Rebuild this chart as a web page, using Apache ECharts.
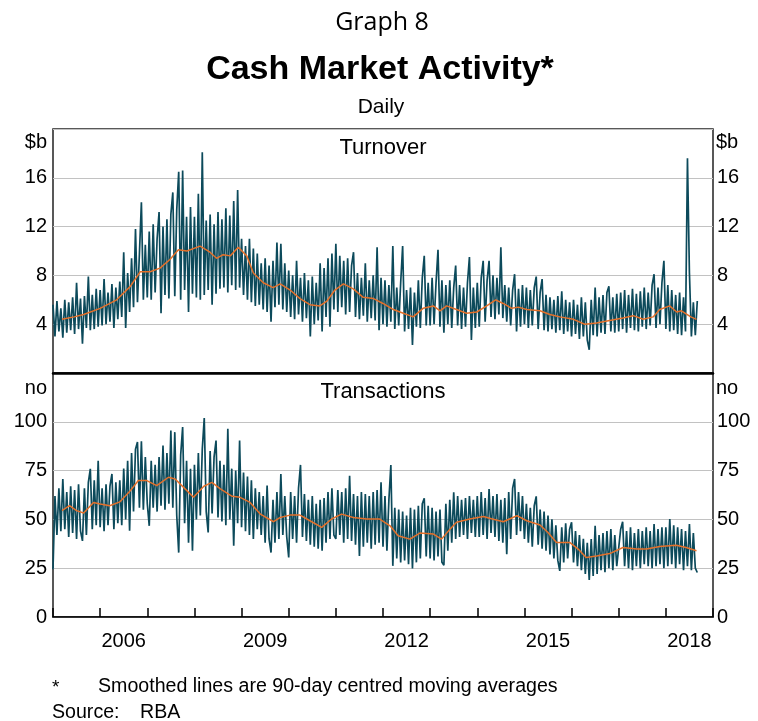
<!DOCTYPE html>
<html>
<head>
<meta charset="utf-8">
<title>Cash Market Activity</title>
<script src="https://cdn.jsdelivr.net/npm/echarts@6/dist/echarts.min.js"></script>
<style>
html, body { margin: 0; padding: 0; background: #fff; }
#chart { width: 758px; height: 721px; }
</style>
</head>
<body>
<div id="chart"></div>
<script>
var startYear = 2005;

var turnover = [
    5.6, 3.0, 5.9, 3.4, 5.3, 2.9, 6.0, 3.3, 5.8, 3.5, 6.2, 3.2, 7.4, 3.6, 6.1, 2.4, 6.3, 3.7, 7.9, 3.5, 6.4, 3.6, 6.9, 3.8, // 2005
    6.8, 3.9, 7.7, 4.0, 6.6, 4.2, 7.3, 3.7, 7.0, 4.4, 7.5, 4.6, 9.9, 3.7, 8.2, 5.0, 9.4, 5.4, 11.8, 5.8, 9.8, 14.0, 6.0, 10.5, // 2006
    6.2, 11.6, 6.0, 12.2, 6.6, 11.0, 13.2, 4.9, 12.0, 6.4, 12.6, 6.1, 13.0, 14.8, 6.3, 13.4, 16.5, 6.0, 16.6, 6.8, 12.8, 5.0, 13.6, 6.5, // 2007
    12.8, 6.2, 14.7, 6.0, 18.1, 6.4, 12.5, 6.8, 13.0, 5.6, 12.2, 6.5, 13.2, 6.9, 12.6, 7.0, 13.5, 6.6, 12.9, 7.2, 14.1, 6.8, 15.0, 7.0, // 2008
    11.0, 6.4, 10.4, 6.0, 11.0, 5.8, 10.2, 5.5, 9.8, 5.6, 9.0, 5.2, 9.4, 5.0, 8.8, 4.2, 9.2, 5.4, 10.7, 5.6, 10.6, 5.2, 9.0, 5.0, // 2009
    8.4, 4.6, 8.0, 4.4, 9.2, 4.8, 7.8, 4.2, 8.2, 4.5, 7.6, 3.0, 7.9, 4.0, 7.4, 4.3, 9.0, 3.4, 8.6, 4.6, 9.4, 3.8, 9.8, 5.2, // 2010
    10.6, 5.0, 9.6, 5.4, 9.2, 4.8, 9.4, 5.0, 8.8, 9.9, 4.6, 8.2, 4.4, 7.8, 4.7, 9.0, 4.2, 7.6, 4.5, 8.0, 4.3, 10.3, 3.5, 7.8, // 2011
    4.0, 7.6, 3.8, 7.2, 4.2, 10.4, 3.6, 7.0, 3.9, 7.4, 10.4, 3.4, 6.8, 3.6, 7.0, 2.3, 6.6, 3.8, 7.6, 3.7, 7.8, 9.6, 3.9, 7.4, // 2012
    3.9, 7.8, 4.0, 7.4, 10.1, 3.8, 7.6, 3.3, 7.2, 4.0, 7.6, 3.7, 7.0, 8.8, 3.9, 7.2, 3.6, 7.0, 3.8, 7.4, 9.5, 2.7, 7.0, 3.7, // 2013
    7.4, 3.8, 7.8, 9.2, 4.2, 7.6, 9.2, 4.6, 8.0, 4.4, 7.8, 4.8, 10.3, 4.5, 7.2, 4.2, 7.0, 3.9, 6.8, 8.1, 3.4, 6.9, 3.8, 7.2, // 2014
    4.0, 7.0, 3.7, 6.8, 3.9, 7.0, 7.9, 3.6, 6.6, 7.7, 3.5, 6.4, 3.4, 6.2, 3.6, 6.0, 3.3, 6.3, 3.5, 6.7, 3.2, 6.0, 3.4, 5.8, // 2015
    3.0, 6.0, 3.2, 5.6, 2.8, 6.2, 3.0, 5.8, 2.7, 1.9, 6.0, 3.1, 7.0, 3.0, 6.2, 3.3, 6.4, 3.2, 6.6, 7.1, 3.4, 6.2, 3.3, 6.5, // 2016
    3.4, 6.6, 3.6, 6.8, 3.3, 6.4, 3.7, 6.9, 3.5, 6.5, 3.4, 6.7, 3.8, 7.0, 3.6, 6.6, 3.9, 7.2, 8.1, 3.7, 7.0, 4.0, 7.4, 9.2, // 2017
    3.6, 7.2, 3.4, 6.8, 3.5, 6.4, 3.2, 6.6, 3.1, 6.2, 3.4, 17.6, 8.2, 3.0, 5.8, 3.1, 5.9 // 2018
];

var transactions = [
    24.5, 62, 42, 66, 44, 70.7, 45, 64, 41, 67, 43, 65, 40, 68, 44, 39, 66, 42, 69, 75.9, 45, 70, 47, 80, // 2005
    46, 66, 44, 68, 47, 67, 73.3, 45, 69, 48, 70, 47, 76, 50, 80, 44.2, 84, 54, 86, 89.6, 56, 90, 55, 82, // 2006
    58, 46.7, 80, 56, 78, 54, 82, 57, 87.8, 55, 84, 58, 95.5, 56, 94.7, 52, 33, 83, 97.3, 48, 80, 38, 76, 33.9, // 2007
    78, 50, 84, 52, 86, 101.9, 54, 43.3, 85, 53, 82, 90.4, 51, 80, 49, 78, 47, 96.4, 50, 76, 36.5, 75, 48, 90.4, // 2008
    46, 74, 44, 72, 42, 70, 40, 66, 45, 64, 42, 62, 38, 67.3, 40, 33, 60, 38, 64, 40, 73.3, 42, 62, 41, // 2009
    30.5, 64, 40, 62, 38, 66, 77.9, 41, 63, 39, 60, 37, 62, 36, 58, 35, 60, 34, 61, 38, 64, 40, 66, 42, // 2010
    40, 65, 42, 64, 38, 66, 40, 72.4, 39, 63, 37, 62, 31.3, 64, 36, 63, 38, 62, 35, 64, 37, 65, 38, 69, // 2011
    36, 62, 34, 60, 77.9, 26.2, 56, 30, 55, 28, 54, 29, 52, 27, 56, 24.8, 55, 28, 57, 30, 58, 60.8, 31, 57, // 2012
    30, 56, 29, 54, 31, 55, 28, 26.5, 58, 34, 60, 38, 63.9, 40, 62, 41, 60, 42, 61, 40, 62, 43, 60, 41, // 2013
    62, 41, 64, 42, 61, 40, 65.6, 43, 62, 41, 63, 39, 60, 38, 61, 32.2, 64, 40, 66, 70.7, 42, 64, 44, 62, // 2014
    40, 58, 38, 56, 36, 57, 61.8, 37, 55, 35, 54, 34, 52, 32, 50, 30, 47, 29, 23.6, 46, 28, 48, 30, 45, // 2015
    48.5, 28, 44, 26, 42, 24, 40, 22, 38, 19, 40, 21, 46.7, 22, 42, 24, 43, 23, 44, 25, 45, 24, 42, 26, // 2016
    25, 45, 48.8, 26, 44, 25, 46, 24, 43, 26, 45, 25, 44, 27, 46, 26, 44, 25, 47.6, 26, 45, 27, 46, 25, // 2017
    46, 26, 50.2, 27, 47, 25, 46, 27, 45, 24, 44, 26, 47.6, 24, 43, 25, 22.8 // 2018
];

// 90-day centred moving averages (decimal year, value)
var turnoverSmoothX = [2005.19, 2005.45, 2005.65, 2006.0, 2006.35, 2006.64, 2006.85, 2007.06, 2007.27, 2007.48, 2007.66, 2007.84,
    2008.12, 2008.33, 2008.47, 2008.61, 2008.76, 2008.93, 2009.11, 2009.25, 2009.46, 2009.67, 2009.82, 2010.03, 2010.24, 2010.45,
    2010.66, 2010.81, 2010.98, 2011.16, 2011.37, 2011.58, 2011.8, 2012.0, 2012.22, 2012.43, 2012.64, 2012.85, 2013.07, 2013.21,
    2013.35, 2013.56, 2013.77, 2013.99, 2014.2, 2014.39, 2014.55, 2014.73, 2014.87, 2015.05, 2015.33, 2015.54, 2015.75, 2016.04,
    2016.28, 2016.53, 2016.81, 2017.09, 2017.31, 2017.52, 2017.73, 2017.87, 2018.08, 2018.23, 2018.33, 2018.53, 2018.65];
var turnoverSmooth = [4.4, 4.6, 4.8, 5.3, 6.0, 7.1, 8.3, 8.3, 8.6, 9.3, 10.1, 10.0,
    10.4, 9.9, 9.4, 9.7, 9.6, 10.3, 9.6, 8.2, 7.4, 7.0, 7.3, 6.8, 6.1, 5.6,
    5.5, 5.9, 6.8, 7.3, 6.9, 6.2, 6.1, 5.7, 5.2, 4.9, 4.6, 5.3, 5.5, 5.1,
    5.5, 5.2, 4.9, 5.0, 5.5, 6.0, 5.7, 5.3, 5.4, 5.2, 5.1, 4.8, 4.6, 4.4,
    4.0, 4.1, 4.3, 4.5, 4.7, 4.4, 4.6, 5.2, 5.5, 5.0, 5.1, 4.6, 4.4];

var transSmoothX = [2005.19, 2005.35, 2005.5, 2005.65, 2005.86, 2006.0, 2006.2, 2006.42, 2006.64, 2006.81, 2006.99, 2007.2,
    2007.45, 2007.59, 2007.77, 2007.98, 2008.2, 2008.37, 2008.55, 2008.8, 2008.97, 2009.18, 2009.4, 2009.68, 2009.82, 2010.03,
    2010.24, 2010.45, 2010.7, 2010.91, 2011.12, 2011.37, 2011.65, 2011.93, 2012.15, 2012.32, 2012.57, 2012.78, 2013.07, 2013.24,
    2013.42, 2013.56, 2013.84, 2014.13, 2014.3, 2014.55, 2014.84, 2015.05, 2015.33, 2015.5, 2015.68, 2015.96, 2016.14, 2016.31,
    2016.53, 2016.81, 2017.09, 2017.38, 2017.59, 2017.87, 2018.22, 2018.43, 2018.65];
var transSmooth = [54.5, 57, 54.5, 53.3, 58.7, 57.9, 57, 59, 64.7, 69.9, 69.9, 67.3,
    71.6, 70.7, 66.4, 61.3, 67, 69, 65.6, 61.8, 61.3, 58.7, 52.7, 48.8, 51, 52.2,
    52.2, 49.3, 45.9, 50.2, 52.7, 51, 50.2, 50.2, 46.7, 41.6, 39.9, 43, 42.5, 39.9,
    45, 48.5, 50.2, 51.5, 50.3, 48.8, 51.9, 49.3, 47.1, 43.3, 38.2, 38.2, 34.8, 30.5,
    31.3, 32.5, 35.6, 34.8, 34.8, 36.1, 36.8, 35.6, 33.9];

var yearLabels = [2006, 2009, 2012, 2015, 2018];
var turnoverTicks = [4, 8, 12, 16];
var transTicks = [0, 25, 50, 75, 100];

var teal = '#0c4a5b';
var orange = '#e4702a';
var font = 'Liberation Sans, Arial, sans-serif';

// semi-monthly sample index -> decimal year
function dailyPairs(values) {
    return values.map(function (v, i) {
        var month = Math.floor(i / 2);
        return [startYear + (month + (i % 2) * 0.5) / 12, v];
    });
}

function zip(xs, ys) {
    return xs.map(function (x, i) { return [x, ys[i]]; });
}

var chartDom = document.getElementById('chart');
var myChart = echarts.init(chartDom);
var option;

function yAxis(grid, pos, max, interval, ticks, showSplit) {
    return {
        gridIndex: grid,
        type: 'value',
        position: pos,
        min: 0,
        max: max,
        interval: interval,
        axisLine: { show: false },
        axisTick: { show: false },
        axisLabel: {
            fontFamily: font,
            fontSize: 20,
            color: '#000',
            margin: pos === 'left' ? 6 : 4,
            formatter: function (v) {
                return ticks.indexOf(v) >= 0 ? String(v) : '';
            }
        },
        splitLine: {
            show: showSplit,
            lineStyle: { color: '#c2c2c2', width: 1 }
        }
    };
}

function label(text, x, y, size, align, weight, family) {
    return {
        type: 'text',
        x: x,
        y: y,
        style: {
            text: text,
            font: (weight || 'normal') + ' ' + size + 'px ' + (family || font),
            fill: '#000',
            align: align || 'center',
            verticalAlign: 'middle'
        }
    };
}

var dailyLine = { color: teal, width: 1.7, join: 'bevel' };

option = {
    animation: false,
    backgroundColor: '#fff',
    grid: [
        { left: 53, right: 45, top: 129, height: 244, show: true, borderColor: '#222', borderWidth: 1.5 },
        { left: 53, right: 45, top: 373, height: 244, show: true, borderColor: '#222', borderWidth: 1.5 }
    ],
    xAxis: [
        {
            gridIndex: 0,
            type: 'value',
            min: 2005,
            max: 2019,
            interval: 1,
            axisLine: { show: true, lineStyle: { color: '#000', width: 2.5 } },
            axisTick: { show: false },
            axisLabel: { show: false },
            splitLine: { show: false }
        },
        {
            gridIndex: 1,
            type: 'value',
            min: 2005,
            max: 2019,
            interval: 1,
            axisLine: { show: true, lineStyle: { color: '#000', width: 1.5 } },
            axisTick: { show: true, inside: true, length: 9, lineStyle: { color: '#000', width: 1.5 } },
            axisLabel: {
                customValues: yearLabels.map(function (y) { return y + 0.5; }),
                formatter: function (v) { return String(Math.floor(v)); },
                fontFamily: font,
                fontSize: 20,
                color: '#000',
                margin: 14
            },
            splitLine: { show: false }
        }
    ],
    yAxis: [
        yAxis(0, 'left', 20, 4, turnoverTicks, true),
        yAxis(0, 'right', 20, 4, turnoverTicks, false),
        yAxis(1, 'left', 125, 25, transTicks, true),
        yAxis(1, 'right', 125, 25, transTicks, false)
    ],
    series: [
        {
            name: 'Turnover',
            type: 'line',
            xAxisIndex: 0,
            yAxisIndex: 0,
            showSymbol: false,
            lineStyle: dailyLine,
            data: dailyPairs(turnover),
            z: 2
        },
        {
            name: 'Turnover smoothed',
            type: 'line',
            xAxisIndex: 0,
            yAxisIndex: 0,
            showSymbol: false,
            lineStyle: { color: orange, width: 1.5 },
            data: zip(turnoverSmoothX, turnoverSmooth),
            z: 3
        },
        {
            name: 'Transactions',
            type: 'line',
            xAxisIndex: 1,
            yAxisIndex: 2,
            showSymbol: false,
            lineStyle: dailyLine,
            data: dailyPairs(transactions),
            z: 2
        },
        {
            name: 'Transactions smoothed',
            type: 'line',
            xAxisIndex: 1,
            yAxisIndex: 2,
            showSymbol: false,
            lineStyle: { color: orange, width: 1.5 },
            data: zip(transSmoothX, transSmooth),
            z: 3
        }
    ],
    graphic: [
        label('Graph 8', 382, 23, 25, 'center', 'normal', 'Open Sans, sans-serif'),
        label('Cash Market Activity*', 380, 70, 34, 'center', 'bold'),
        label('Daily', 381, 107, 21),
        label('Turnover', 383, 148, 22),
        label('Transactions', 383, 392, 22),
        label('$b', 47, 142, 20, 'right'),
        label('$b', 716, 142, 20, 'left'),
        label('no', 47, 388, 20, 'right'),
        label('no', 716, 388, 20, 'left'),
        label('*', 52, 688, 19, 'left'),
        label('Smoothed lines are 90-day centred moving averages', 98, 687, 19.6, 'left'),
        label('Source:', 52, 713, 19.6, 'left'),
        label('RBA', 140, 713, 19.6, 'left')
    ]
};

option && myChart.setOption(option);

window.onresize = function () {
    myChart.resize();
};
</script>
</body>
</html>
